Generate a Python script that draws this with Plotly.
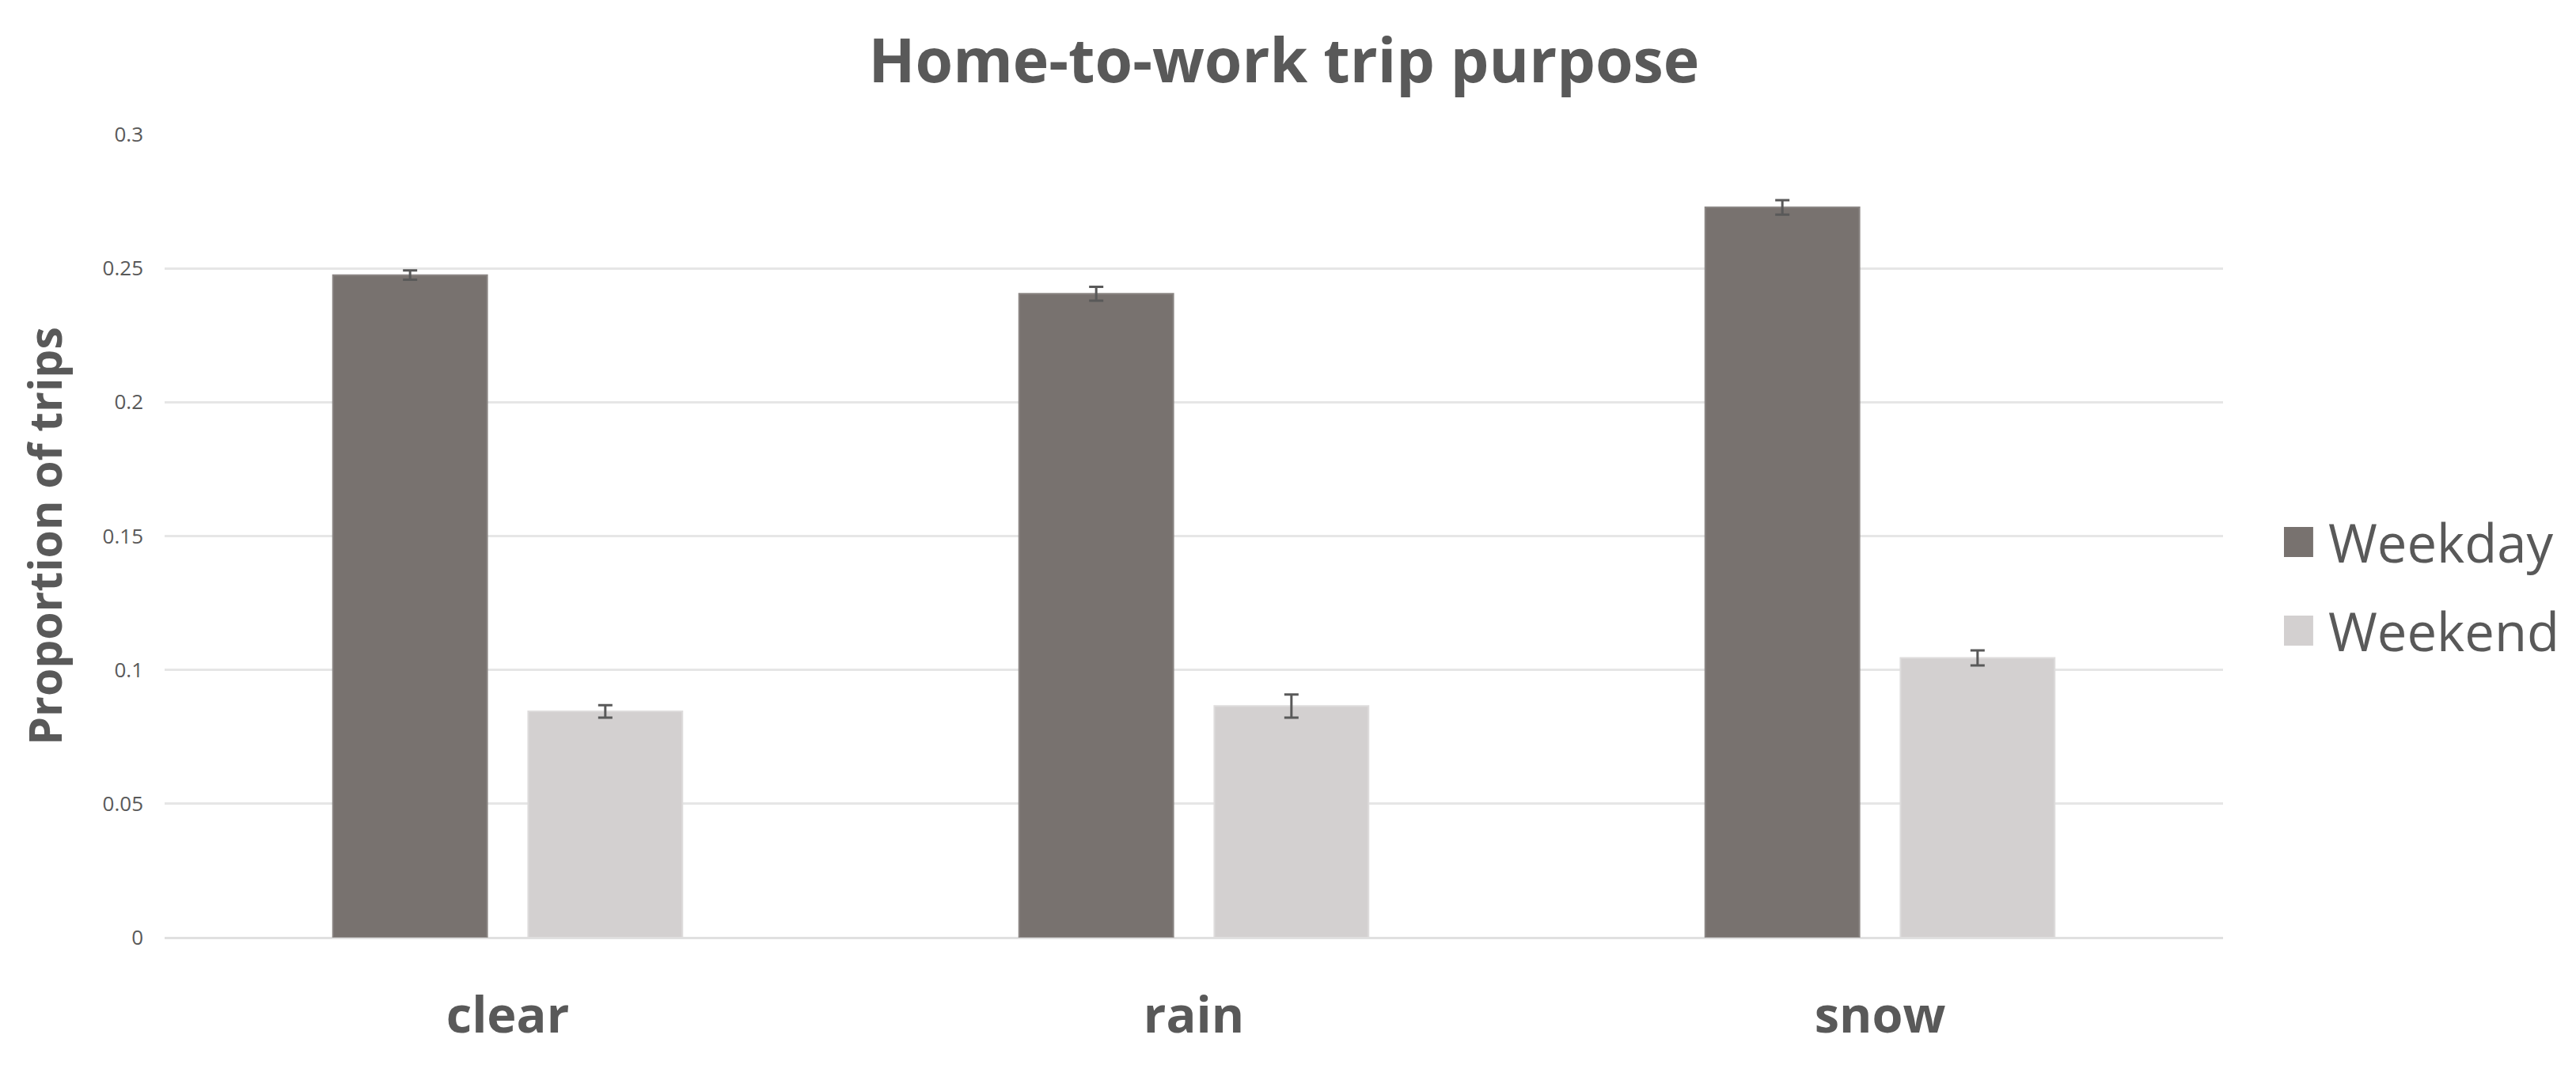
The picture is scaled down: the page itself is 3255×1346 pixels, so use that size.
import plotly.graph_objects as go

categories = ["clear", "rain", "snow"]
series_names = ["Weekday", "Weekend"]
weekday = [0.2475, 0.2405, 0.2728]
weekend = [0.0845, 0.0865, 0.1045]
weekday_err = [0.0017, 0.0026, 0.0027]
weekend_err = [0.0023, 0.0043, 0.0028]
y_ticks = [0, 0.05, 0.1, 0.15, 0.2, 0.25, 0.3]
y_ticktext = ["0", "0.05", "0.1", "0.15", "0.2", "0.25", "0.3"]

colors = ["#78726f", "#d3d0d0"]
edge = ["#8a8583", "#dedcdc"]
txt = "#595959"
font = "Open Sans"

fig = go.Figure()
for name, vals, errs, c, e in zip(series_names, [weekday, weekend], [weekday_err, weekend_err], colors, edge):
    fig.add_trace(go.Bar(
        x=categories, y=vals, name=name, showlegend=False,
        marker=dict(color=c, line=dict(color=e, width=2)),
        error_y=dict(type="data", array=errs, color=txt, thickness=3, width=9),
    ))

# legend drawn by hand so the swatches can be as large as the original
leg_y = [0.4926, 0.3823]
for name, c, y in zip(series_names, colors, leg_y):
    fig.add_shape(type="rect", xref="paper", yref="paper",
                  x0=1.0296, x1=1.0438, y0=y - 0.0187, y1=y + 0.0187,
                  fillcolor=c, line=dict(width=0))
    fig.add_annotation(text=name, xref="paper", yref="paper", x=1.0505, y=y,
                       xanchor="left", yanchor="middle", showarrow=False,
                       font=dict(family=font, size=67, color=txt))

fig.update_layout(
    width=3255, height=1346,
    paper_bgcolor="white", plot_bgcolor="white",
    margin=dict(l=200, r=454, t=162, b=169),
    barmode="group", bargap=0.431, bargroupgap=0.21,
    title=dict(text="<b>Home-to-work trip purpose</b>", x=0.496, xanchor="center",
               y=0.949, yanchor="middle", yref="container",
               font=dict(family=font, size=77, color=txt)),
    xaxis=dict(tickfont=dict(family=font, size=63, color=txt), showgrid=False,
               showline=False, ticks="", ticklabelstandoff=56, automargin=False,
               tickprefix="<b>", ticksuffix="</b>"),
    yaxis=dict(range=[0, 0.3], tickvals=y_ticks, ticktext=y_ticktext,
               tickfont=dict(family=font, size=26, color=txt),
               gridcolor="#e6e6e6", gridwidth=3, zeroline=True,
               zerolinecolor="#e0e0e0", zerolinewidth=3, showline=False,
               ticks="", ticklen=0, ticklabelstandoff=26, automargin=False,
               title=dict(text="<b>Proportion of trips</b>", standoff=32,
                          font=dict(family=font, size=57, color=txt))),
)

fig.write_html("out.html")
